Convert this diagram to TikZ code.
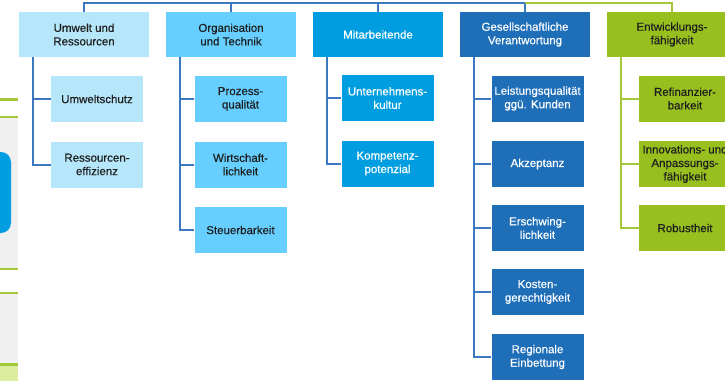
\documentclass[tikz,border=0pt]{standalone}
\usepackage{fontspec}
\setmainfont{Liberation Sans}
\newfontfamily\medfont[FakeBold=0.4]{Liberation Sans}
\usetikzlibrary{calc}
\definecolor{cA}{HTML}{B6E6FA}
\definecolor{cB}{HTML}{66CFFF}
\definecolor{cC}{HTML}{009EE0}
\definecolor{cD}{HTML}{1E6FB8}
\definecolor{cE}{HTML}{97BF1E}
\definecolor{lblue}{HTML}{3C78C0}
\definecolor{lgreen}{HTML}{A2C83A}
\definecolor{panelgrey}{HTML}{F0F0F0}
\definecolor{palegreen}{HTML}{DCEDA0}
\definecolor{darktext}{HTML}{1E1E1E}
\begin{document}
\begin{tikzpicture}[x=1pt,y=-1pt,
  font=\medfont\fontsize{11.5}{13.5}\selectfont,
  topbox/.style={minimum width=130pt, minimum height=45pt, inner sep=0pt, align=center},
  childbox/.style={minimum width=92pt, minimum height=46pt, inner sep=0pt, align=center},
  lightA/.style={fill=cA, text=darktext},
  lightB/.style={fill=cB, text=darktext},
  midC/.style={fill=cC, text=white},
  darkD/.style={fill=cD, text=white},
  greenE/.style={fill=cE, text=darktext},
  bline/.style={draw=lblue, line width=2pt, line join=miter},
  gline/.style={draw=lgreen, line width=2pt, line join=miter}]
\useasboundingbox (0,0) rectangle (725,381);

% partial panel on the left edge
\fill[panelgrey] (0,117) rectangle (18,269);
\fill[panelgrey] (0,293) rectangle (18,364);
\fill[palegreen] (0,365) rectangle (18,381);
\fill[cC, rounded corners=10pt] (-20,152) rectangle (11,233);
\draw[lgreen, line width=3pt] (0,99) -- (18,99);
\draw[lgreen, line width=2pt] (0,117) -- (18,117);
\draw[lgreen, line width=2pt] (0,269) -- (18,269);
\draw[lgreen, line width=2pt] (0,293) -- (18,293);
\draw[lgreen, line width=3pt] (0,364.5) -- (18,364.5);

% top boxes
\node[topbox, lightA] (t1) at (84,34.5) {Umwelt und\\Ressourcen};
\node[topbox, lightB] (t2) at (231,34.5) {Organisation\\und Technik};
\node[topbox, midC]   (t3) at (378,34.5) {Mitarbeitende};
\node[topbox, darkD]  (t4) at (525,34.5) {Gesellschaftliche\\Verantwortung};
\node[topbox, greenE] (t5) at (672,34.5) {Entwicklungs-\\fähigkeit};

% children
\node[childbox, lightA] (c11) at (97,99)    {Umweltschutz};
\node[childbox, lightA] (c12) at (97,164.5) {Ressourcen-\\effizienz};

\node[childbox, lightB] (c21) at (240.5,99)    {Prozess-\\qualität};
\node[childbox, lightB] (c22) at (240.5,164.5) {Wirtschaft-\\lichkeit};
\node[childbox, lightB] (c23) at (240.5,230)   {Steuerbarkeit};

\node[childbox, midC] (c31) at (387.5,98)  {Unternehmens-\\kultur};
\node[childbox, midC] (c32) at (387.5,163.5) {Kompetenz-\\potenzial};

\node[childbox, darkD] (c41) at (537.5,98.5) {Leistungsqualität\\ggü. Kunden};
\node[childbox, darkD] (c42) at (537.5,164)  {Akzeptanz};
\node[childbox, darkD] (c43) at (537.5,228)  {Erschwing-\\lichkeit};
\node[childbox, darkD] (c44) at (537.5,292)  {Kosten-\\gerechtigkeit};
\node[childbox, darkD] (c45) at (537.5,357)  {Regionale\\Einbettung};

\node[childbox, greenE] (c51) at (685,98.5) {Refinanzier-\\barkeit};
\node[childbox, greenE] (c52) at (685,164)  {Innovations- und\\Anpassungs-\\fähigkeit};
\node[childbox, greenE] (c53) at (685,228)  {Robustheit};

% top connector line
\coordinate (top) at (0,3);
\draw[bline] (t1.north) -- (t1.north |- top) -- (t4.north |- top) -- (t4.north);
\draw[bline] (t2.north) -- (t2.north |- top);
\draw[bline] (t3.north) -- (t3.north |- top);
\draw[gline] (t4.north |- top) -- (t5.north |- top) -- (t5.north);

% vertical stems
\coordinate (v1) at ($(t1.south west)+(14,0)$);
\coordinate (v2) at ($(t2.south west)+(14,0)$);
\coordinate (v3) at ($(t3.south west)+(14,0)$);
\coordinate (v4) at ($(t4.south west)+(14,0)$);
\coordinate (v5) at ($(t5.south west)+(14,0)$);

\foreach \c in {c11,c12} \draw[bline] (v1) |- (\c.west);
\foreach \c in {c21,c22,c23} \draw[bline] (v2) |- (\c.west);
\foreach \c in {c31,c32} \draw[bline] (v3) |- (\c.west);
\foreach \c in {c41,c42,c43,c44,c45} \draw[bline] (v4) |- (\c.west);
\foreach \c in {c51,c52,c53} \draw[gline] (v5) |- (\c.west);
\end{tikzpicture}
\end{document}
